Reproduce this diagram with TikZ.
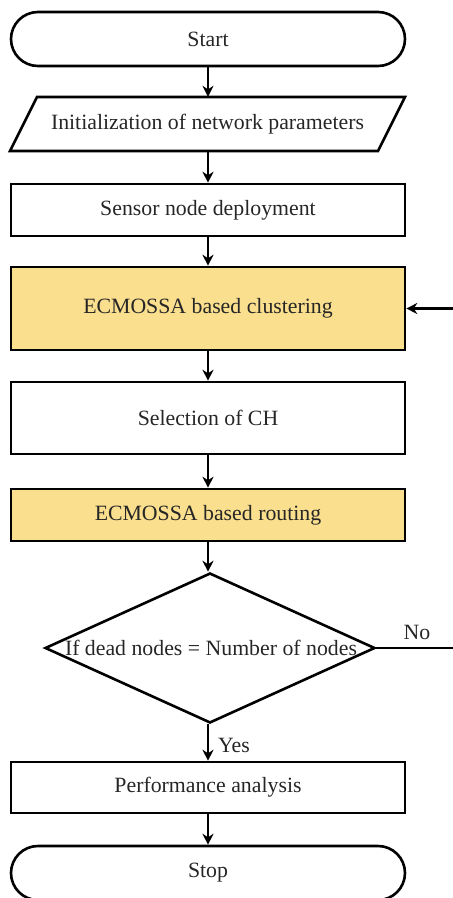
\documentclass[tikz,border=0pt]{standalone}
\usepackage{fontspec}
\setmainfont{Liberation Serif}
\usetikzlibrary{shapes.geometric,arrows.meta}
\definecolor{goldfill}{RGB}{250,223,142}
\begin{document}
\begin{tikzpicture}[x=1pt,y=-1pt,
  every node/.style={font=\fontsize{21.8}{24}\selectfont,text=black!85},
  box/.style={draw=black,line width=2.6pt,rectangle,minimum width=394pt,inner sep=0pt},
  term/.style={box,rounded corners=27pt,minimum height=54pt},
  gold/.style={box,fill=goldfill},
  outline/.style={draw=black,line width=2.6pt,line join=miter},
  dia/.style={draw=black,line width=2.6pt,diamond,minimum width=330pt,minimum height=150pt,inner sep=0pt},
  arr/.style={line width=2.6pt,-{Stealth[length=11pt,width=11pt]}},
  plain/.style={line width=2.6pt}
]
\useasboundingbox (0,0) rectangle (453,898);
\node[term] (start) at (208,39) {Start};
\draw[outline] (37,97) -- (405,97) -- (378,151) -- (10,151) -- cycle;
\node[minimum width=368pt,minimum height=54pt,inner sep=0pt] (init) at (207.5,124) {Initialization of network parameters};
\node[box,minimum height=52pt] (sensor) at (208,210) {Sensor node deployment};
\node[gold,minimum height=83pt] (clust) at (208,308.5) {ECMOSSA based clustering};
\node[box,minimum height=72pt] (sel) at (208,418) {Selection of CH};
\node[gold,minimum height=52pt] (rout) at (208,515) {ECMOSSA based routing};
\node[dia] (dec) at (210,648) {};
\node (dectext) at (211,648) {If dead nodes = Number of nodes};
\node[box,minimum height=51pt] (perf) at (208,787.5) {Performance analysis};
\node[term] (stop) at (208,873) {Stop};
\node (yes) at (234,745) {Yes};
\node (no) at (417,632) {No};
\coordinate (noend) at (455,648);
\coordinate (backin) at (455,308.5);
\draw[arr] (start.south) -- (start.south |- init.north);
\draw[arr] (start.south |- init.south) -- (sensor.north);
\draw[arr] (sensor.south) -- (clust.north);
\draw[arr] (clust.south) -- (sel.north);
\draw[arr] (sel.south) -- (rout.north);
\draw[arr] (rout.south) -- (rout.south |- dec.north);
\draw[arr] (rout.south |- dec.south) -- (perf.north);
\draw[arr] (perf.south) -- (stop.north);
\draw[plain] (dec.east) -- (noend);
\draw[arr] (backin) -- (clust.east);
\end{tikzpicture}
\end{document}
